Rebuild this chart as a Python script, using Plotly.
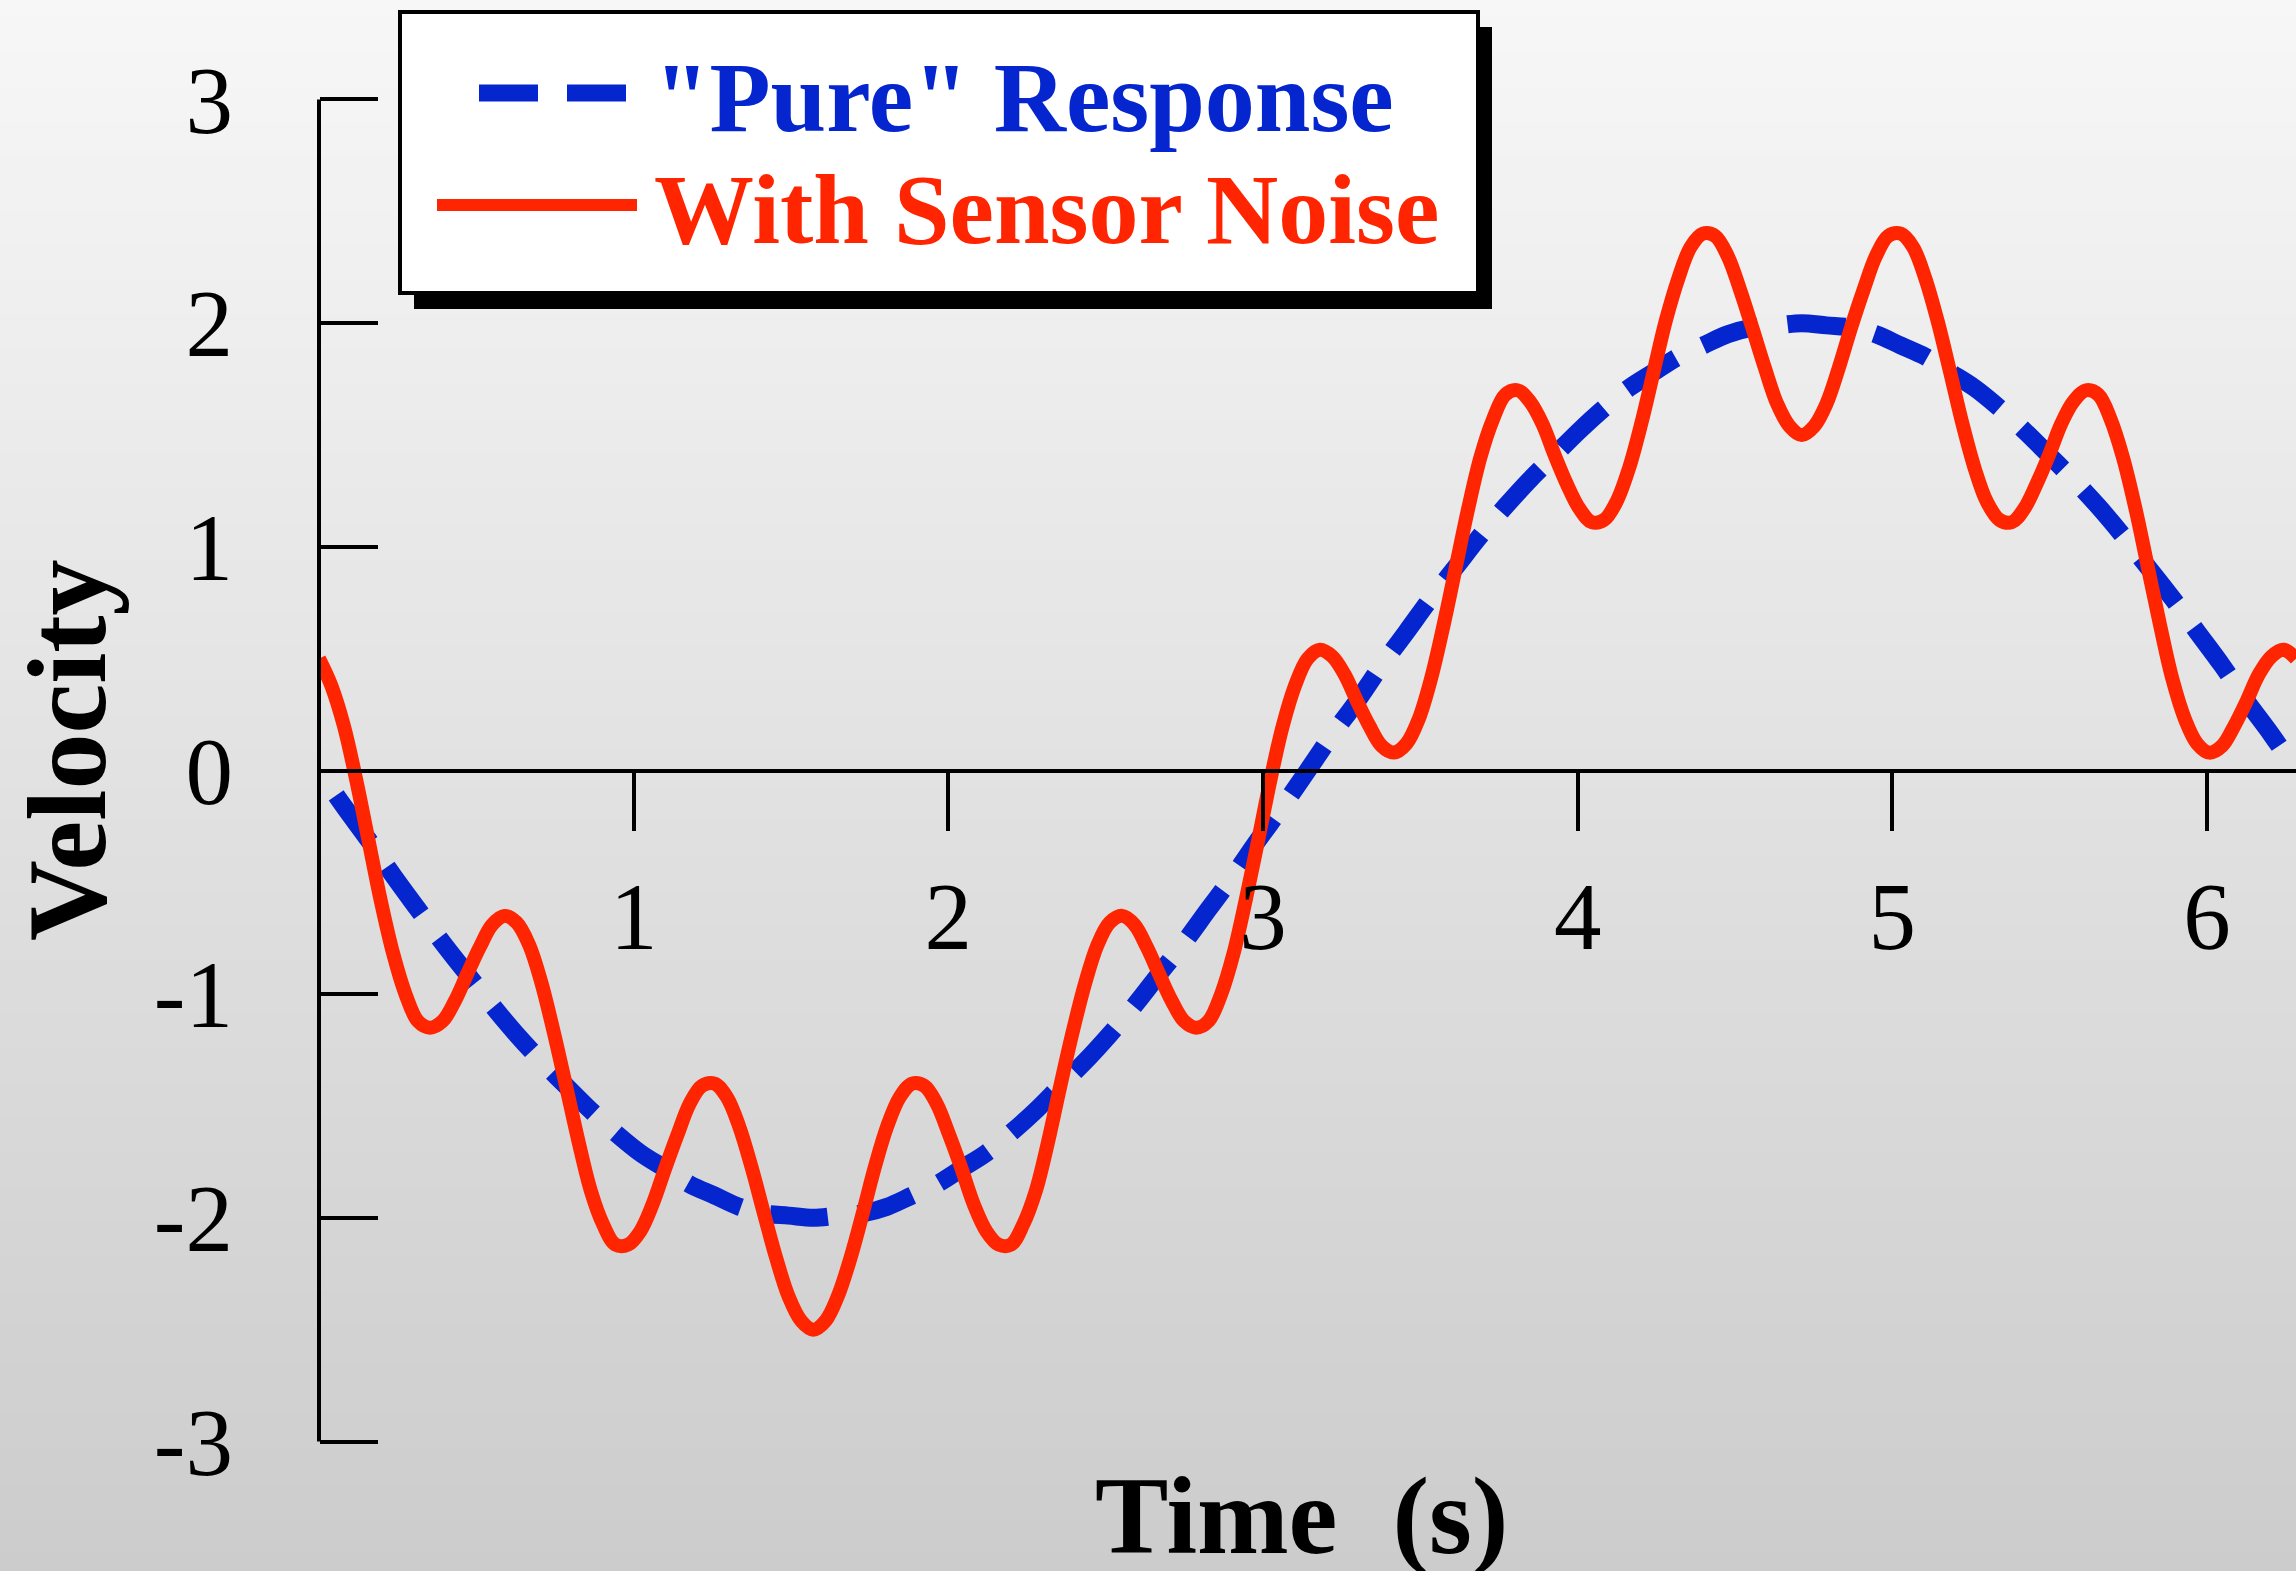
import plotly.graph_objects as go

# ---------------- data ----------------
time_s = [0.000, 0.039, 0.079, 0.118, 0.157, 0.196, 0.236, 0.275, 0.314, 0.353,
          0.393, 0.432, 0.471, 0.511, 0.550, 0.589, 0.628, 0.668, 0.707, 0.746,
          0.785, 0.825, 0.864, 0.903, 0.942, 0.982, 1.021, 1.060, 1.100, 1.139,
          1.178, 1.217, 1.257, 1.296, 1.335, 1.374, 1.414, 1.453, 1.492, 1.532,
          1.571, 1.610, 1.649, 1.689, 1.728, 1.767, 1.806, 1.846, 1.885, 1.924,
          1.963, 2.003, 2.042, 2.081, 2.121, 2.160, 2.199, 2.238, 2.278, 2.317,
          2.356, 2.395, 2.435, 2.474, 2.513, 2.553, 2.592, 2.631, 2.670, 2.710,
          2.749, 2.788, 2.827, 2.867, 2.906, 2.945, 2.985, 3.024, 3.063, 3.102,
          3.142, 3.181, 3.220, 3.259, 3.299, 3.338, 3.377, 3.416, 3.456, 3.495,
          3.534, 3.574, 3.613, 3.652, 3.691, 3.731, 3.770, 3.809, 3.848, 3.888,
          3.927, 3.966, 4.006, 4.045, 4.084, 4.123, 4.163, 4.202, 4.241, 4.280,
          4.320, 4.359, 4.398, 4.437, 4.477, 4.516, 4.555, 4.595, 4.634, 4.673,
          4.712, 4.752, 4.791, 4.830, 4.869, 4.909, 4.948, 4.987, 5.027, 5.066,
          5.105, 5.144, 5.184, 5.223, 5.262, 5.301, 5.341, 5.380, 5.419, 5.458,
          5.498, 5.537, 5.576, 5.616, 5.655, 5.694, 5.733, 5.773, 5.812, 5.851,
          5.890, 5.930, 5.969, 6.008, 6.048, 6.087, 6.126, 6.165, 6.205, 6.244,
          6.283]

# "pure" response, sampled at every second time above
pure_response = [0.00, -0.16, -0.31, -0.47, -0.62, -0.77, -0.91, -1.05, -1.18, -1.30,
                 -1.41, -1.52, -1.62, -1.71, -1.78, -1.85, -1.90, -1.95, -1.98, -1.99,
                 -2.00, -1.99, -1.98, -1.95, -1.90, -1.85, -1.78, -1.71, -1.62, -1.52,
                 -1.41, -1.30, -1.18, -1.05, -0.91, -0.77, -0.62, -0.47, -0.31, -0.16,
                 0.00, 0.16, 0.31, 0.47, 0.62, 0.77, 0.91, 1.05, 1.18, 1.30,
                 1.41, 1.52, 1.62, 1.71, 1.78, 1.85, 1.90, 1.95, 1.98, 1.99,
                 2.00, 1.99, 1.98, 1.95, 1.90, 1.85, 1.78, 1.71, 1.62, 1.52,
                 1.41, 1.30, 1.18, 1.05, 0.91, 0.77, 0.62, 0.47, 0.31, 0.16,
                 0.00]

with_noise = [0.50, 0.38, 0.20, -0.04, -0.31, -0.58, -0.82, -1.00, -1.12, -1.15,
              -1.12, -1.03, -0.91, -0.79, -0.69, -0.65, -0.68, -0.78, -0.95, -1.17,
              -1.41, -1.66, -1.88, -2.03, -2.12, -2.12, -2.06, -1.94, -1.78, -1.63,
              -1.49, -1.41, -1.40, -1.46, -1.59, -1.77, -1.98, -2.18, -2.35, -2.46,
              -2.50, -2.46, -2.35, -2.18, -1.98, -1.77, -1.59, -1.46, -1.40, -1.41,
              -1.49, -1.63, -1.78, -1.94, -2.06, -2.12, -2.12, -2.03, -1.88, -1.66,
              -1.41, -1.17, -0.95, -0.78, -0.68, -0.65, -0.69, -0.79, -0.91, -1.03,
              -1.12, -1.15, -1.12, -1.00, -0.82, -0.58, -0.31, -0.04, 0.20, 0.38,
              0.50, 0.54, 0.51, 0.43, 0.31, 0.20, 0.11, 0.08, 0.12, 0.23,
              0.41, 0.65, 0.91, 1.17, 1.40, 1.57, 1.68, 1.70, 1.65, 1.55,
              1.41, 1.28, 1.17, 1.11, 1.12, 1.20, 1.35, 1.55, 1.78, 2.01,
              2.20, 2.34, 2.40, 2.39, 2.30, 2.15, 1.98, 1.80, 1.64, 1.54,
              1.50, 1.54, 1.64, 1.80, 1.98, 2.15, 2.30, 2.39, 2.40, 2.34,
              2.20, 2.01, 1.78, 1.55, 1.35, 1.20, 1.12, 1.11, 1.17, 1.28,
              1.41, 1.55, 1.65, 1.70, 1.68, 1.57, 1.40, 1.17, 0.91, 0.65,
              0.41, 0.23, 0.12, 0.08, 0.11, 0.20, 0.31, 0.43, 0.51, 0.54,
              0.50]

x_tick_vals = [1, 2, 3, 4, 5, 6]
x_tick_text = ["1", "2", "3", "4", "5", "6"]
y_tick_vals = [-3, -2, -1, 0, 1, 2, 3]
y_tick_text = ["-3", "-2", "-1", "0", "1", "2", "3"]

series_names = ['"Pure" Response', "With Sensor Noise"]
x_title = "Time\u00a0 (s)"
y_title = "Velocity"

# ---------------- styling ----------------
W, H = 2296, 1571
ML, MR, MT, MB = 319, 0, 95, 125
PW, PH = W - ML - MR, H - MT - MB
Y_PAD = 0.02
BLUE = "#0526cf"
RED = "#ff2500"
SERIF = "Liberation Serif"


def fx(px):
    return (px - ML) / PW


def fy(py):
    return (H - MB - py) / PH


fig = go.Figure()
fig.add_trace(go.Scatter(
    x=time_s[::2], y=pure_response, mode="lines", name=series_names[0],
    line=dict(color=BLUE, width=18, dash="0px,30px,58px,0px", shape="spline"),
))
fig.add_trace(go.Scatter(
    x=time_s, y=with_noise, mode="lines", name=series_names[1],
    line=dict(color=RED, width=14, shape="spline"),
))

shapes = []
# vertical gray gradient background
nb = 90
top_c, bot_c = 247, 204
for i in range(nb):
    y0p = H * i / nb
    y1p = H * (i + 1) / nb
    c = round(top_c + (bot_c - top_c) * (i + 0.5) / nb)
    shapes.append(dict(type="rect", xref="paper", yref="paper",
                       x0=fx(-5), x1=fx(W + 5), y0=fy(y1p + 1), y1=fy(y0p),
                       fillcolor=f"rgb({c},{c},{c})", line=dict(width=0),
                       layer="below"))

# y axis spine, ending exactly at the outer ticks
shapes.append(dict(type="line", xref="paper", yref="y",
                   x0=0, x1=0, y0=y_tick_vals[0], y1=y_tick_vals[-1],
                   line=dict(color="black", width=4)))

# legend box with drop shadow
shapes.append(dict(type="rect", xref="paper", yref="paper",
                   x0=fx(414), x1=fx(1492), y0=fy(309), y1=fy(27),
                   fillcolor="black", line=dict(width=0)))
shapes.append(dict(type="rect", xref="paper", yref="paper",
                   x0=fx(400), x1=fx(1478), y0=fy(293), y1=fy(12),
                   fillcolor="white", line=dict(color="black", width=4)))
shapes.append(dict(type="line", xref="paper", yref="paper",
                   x0=fx(479), x1=fx(626), y0=fy(93), y1=fy(93),
                   line=dict(color=BLUE, width=17, dash="59px,29px")))
shapes.append(dict(type="line", xref="paper", yref="paper",
                   x0=fx(437), x1=fx(637), y0=fy(205), y1=fy(205),
                   line=dict(color=RED, width=12)))

annotations = [
    dict(text=series_names[0], xref="paper", yref="paper", x=fx(652), y=fy(97),
         xanchor="left", yanchor="middle", showarrow=False,
         font=dict(family=SERIF, size=100, color=BLUE, weight="bold")),
    dict(text=series_names[1], xref="paper", yref="paper", x=fx(652), y=fy(209),
         xanchor="left", yanchor="middle", showarrow=False,
         font=dict(family=SERIF, size=100, color=RED, weight="bold")),
    dict(text=y_title, xref="paper", yref="paper", x=fx(67), y=fy(750),
         xanchor="center", yanchor="middle", textangle=-90, showarrow=False,
         font=dict(family=SERIF, size=112, color="black", weight="bold")),
    dict(text=x_title, xref="paper", yref="paper", x=fx(1301), y=fy(1516),
         xanchor="center", yanchor="middle", showarrow=False,
         font=dict(family=SERIF, size=110, color="black", weight="bold")),
]

fig.update_layout(
    width=W, height=H,
    margin=dict(l=ML, r=MR, t=MT, b=MB, pad=0),
    paper_bgcolor="rgb(225,225,225)",
    plot_bgcolor="rgba(0,0,0,0)",
    showlegend=False,
    shapes=shapes,
    annotations=annotations,
    xaxis=dict(
        range=[0, 6.283], anchor="free", position=0.5,
        showline=True, linecolor="black", linewidth=4,
        ticks="outside", ticklen=58, tickwidth=4, tickcolor="black",
        tickvals=x_tick_vals, ticktext=x_tick_text,
        tickfont=dict(family=SERIF, size=95, color="black"),
        ticklabelstandoff=4,
        showgrid=False, zeroline=False,
    ),
    yaxis=dict(
        range=[y_tick_vals[0] - Y_PAD, y_tick_vals[-1] + Y_PAD],
        anchor="free", position=0,
        showline=False,
        ticks="inside", ticklen=58, tickwidth=4, tickcolor="black",
        tickvals=y_tick_vals, ticktext=y_tick_text,
        tickfont=dict(family=SERIF, size=95, color="black"),
        ticklabelstandoff=86,
        showgrid=False, zeroline=False,
    ),
)

fig.write_html("out.html", post_script="document.body.style.margin='0';",
               config={"displayModeBar": False})
